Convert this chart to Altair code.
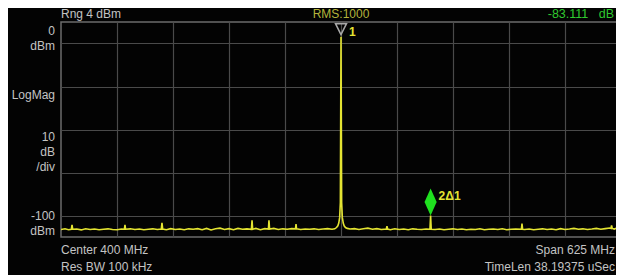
import altair as alt
import pandas as pd

# ---------------- data ----------------
freq_mhz = [
    87.5, 92, 96, 99, 99.8, 100.6, 105, 110, 115, 120, 125, 130, 135, 140, 145, 150, 155,
    158.2, 158.9, 159.6, 165, 170, 175, 180, 185, 190, 195, 199.4, 200.2, 201.0, 205, 210, 215, 220, 225, 230, 235,
    240, 245, 250, 255, 260, 265, 270, 275, 280, 285, 290, 295, 300, 300.7, 301.4, 305, 310, 315, 319, 319.6, 320.3, 325, 330, 335, 340, 345,
    349.2, 349.8, 350.4, 355, 360, 365, 370, 375, 380, 385, 390, 393,
    395, 396.5, 397.5, 398.5, 399.3, 400, 400.7, 401.5, 402.5, 403.5, 405,
    407, 410, 415, 420, 425, 430, 435, 440, 445, 450.6, 451.3, 452, 455, 460, 465, 470, 475, 480, 485, 490, 495,
    499.3, 500, 500.7, 505, 510, 515, 520, 525, 530, 535, 540, 545, 550, 555, 560, 565, 570, 575, 580, 585, 590, 595,
    601.3, 602, 602.7, 605, 610, 615, 620, 625, 630, 635, 640, 645, 650, 655, 660, 665, 670, 675, 680, 685, 690, 695, 700,
    701.3, 702, 702.7, 705, 708, 712.5,
]
level_dbm = [
    -96.5, -96.2, -96.6, -96.4, -94.4, -96.4, -96.3, -96.7, -96.2, -96.5, -96.3, -96.6, -96.4, -96.2, -96.5, -96.6, -96.3,
    -96.4, -94.3, -96.4, -96.2, -96.5, -96.3, -96.6, -96.4, -96.2, -96.5, -96.3, -93.4, -96.3, -96.6, -96.1, -96.5, -96.3, -96.6, -96.2, -96.4,
    -96.1, -96.6, -96.0, -96.7, -96.2, -95.9, -96.5, -96.1, -96.6, -96.0, -96.4, -96.2, -96.4, -92.2, -96.4, -96.0, -96.6, -96.1, -96.3, -92.2, -96.3, -96.0, -96.5, -96.2, -96.4, -96.1,
    -96.2, -94.0, -96.2, -96.5, -96.3, -96.4, -96.2, -96.5, -96.3, -96.1, -96.4, -96.2,
    -95.6, -94.8, -93.5, -91.0, -84.0, -6.9, -84.0, -91.0, -93.5, -94.8, -95.6,
    -96.0, -96.3, -96.1, -96.5, -96.2, -95.9, -96.4, -96.1, -96.5, -96.3, -95.0, -96.3, -96.6, -96.2, -96.5, -96.3, -96.6, -96.2, -96.4, -96.5, -96.3,
    -96.4, -90.0, -96.4, -96.5, -96.3, -96.6, -96.4, -96.2, -96.5, -96.3, -96.6, -96.4, -96.5, -96.2, -96.6, -96.4, -96.3, -96.5, -96.2, -96.6, -96.4, -96.3,
    -96.4, -93.8, -96.4, -96.5, -96.3, -96.6, -96.4, -96.2, -96.5, -96.3, -96.6, -96.1, -96.5, -96.3, -96.0, -96.4, -96.2, -96.5, -96.3, -96.0, -96.4, -96.1, -95.8,
    -96.0, -94.6, -96.0, -96.3, -95.8, -96.2,
]

marker1_freq = [400]
marker1_level = [-6.9]
marker1_label = ["1"]
marker2_freq = [500]
marker2_level = [-90.0]
marker2_label = ["2\u03941"]

x_domain = [87.5, 712.5]
y_domain = [-100, 0]
x_grid = [150, 212.5, 275, 337.5, 400, 462.5, 525, 587.5, 650]
y_grid = [-90, -80, -70, -60, -50, -40, -30, -20, -10]

FONT = "Liberation Sans"
YELLOW = "#e4e432"

trace = pd.DataFrame({"f": freq_mhz, "p": level_dbm})
m1 = pd.DataFrame({"f": marker1_freq, "p": marker1_level, "t": marker1_label})
m2 = pd.DataFrame({"f": marker2_freq, "p": marker2_level, "t": marker2_label})

xs = alt.Scale(domain=x_domain, nice=False, zero=False)
ys = alt.Scale(domain=y_domain, nice=False, zero=False)

xax = alt.Axis(values=x_grid, grid=True, labels=False, ticks=False, domain=False, title=None,
               gridColor="#4a4a4a", gridWidth=1.2)
yax = alt.Axis(values=y_grid, grid=True, labels=False, ticks=False, domain=False, title=None,
               gridColor="#4a4a4a", gridWidth=1.2)

line = alt.Chart(trace).mark_line(color=YELLOW, strokeWidth=1.6, clip=True).encode(
    x=alt.X("f:Q", scale=xs, axis=xax),
    y=alt.Y("p:Q", scale=ys, axis=yax),
)

m1_sym = alt.Chart(m1).mark_point(
    shape="M0,-0.2 L-0.5,-1.2 L0.5,-1.2 Z", size=484, filled=False,
    stroke="#a8a8a8", strokeWidth=1.5, opacity=1,
).encode(x=alt.X("f:Q", scale=xs), y=alt.Y("p:Q", scale=ys))

m1_txt = alt.Chart(m1).mark_text(
    font=FONT, fontSize=12, fontWeight="bold", color=YELLOW, align="left",
    baseline="middle", dx=8, dy=-5,
).encode(x=alt.X("f:Q", scale=xs), y=alt.Y("p:Q", scale=ys), text="t:N")

m2_sym = alt.Chart(m2).mark_point(
    shape="M0,0 L-0.45,-1 L0,-2 L0.45,-1 Z", size=729, filled=True,
    fill="#1fe01f", strokeWidth=0, opacity=1,
).encode(x=alt.X("f:Q", scale=xs), y=alt.Y("p:Q", scale=ys))

m2_txt = alt.Chart(m2).mark_text(
    font=FONT, fontSize=12, fontWeight="bold", color=YELLOW, align="left",
    baseline="middle", dx=8, dy=-20,
).encode(x=alt.X("f:Q", scale=xs), y=alt.Y("p:Q", scale=ys), text="t:N")

one = pd.DataFrame({"k": [0]})


def label(text, x, y, align="left", color="#c4c4c4", size=12, weight="normal"):
    return alt.Chart(one).mark_text(
        text=text, x=x, y=y, align=align, baseline="middle", font=FONT,
        fontSize=size, color=color, fontWeight=weight,
    )


labels = [
    label("Rng 4 dBm", 0, -8),
    label("RMS:1000", 280, -8, align="center", color="#b4b43c"),
    label("-83.111\u00a0\u00a0\u00a0dB", 553, -8, align="right", color="#30c830", size=12.5),
    label("0", -6, 9, align="right"),
    label("dBm", -6, 24, align="right"),
    label("LogMag", -6, 73, align="right"),
    label("10", -6, 115, align="right"),
    label("dB", -6, 130, align="right"),
    label("/div", -6, 145, align="right"),
    label("-100", -6, 194, align="right"),
    label("dBm", -6, 209, align="right"),
    label("Center 400 MHz", 0, 228),
    label("Res BW 100 kHz", 0, 245),
    label("Span 625 MHz", 554, 228, align="right"),
    label("TimeLen 38.19375 uSec", 554, 245, align="right"),
]

chart = alt.layer(line, m1_sym, m1_txt, m2_sym, m2_txt, *labels).properties(
    width=560, height=215,
    autosize=alt.AutoSizeParams(type="none"),
    padding={"left": 53, "top": 14, "right": -5, "bottom": 38},
).configure(background="#030303").configure_view(stroke="#6c6c6c", strokeWidth=1.5)

chart.save("out.html", embed_options={"renderer": "svg", "actions": False})
